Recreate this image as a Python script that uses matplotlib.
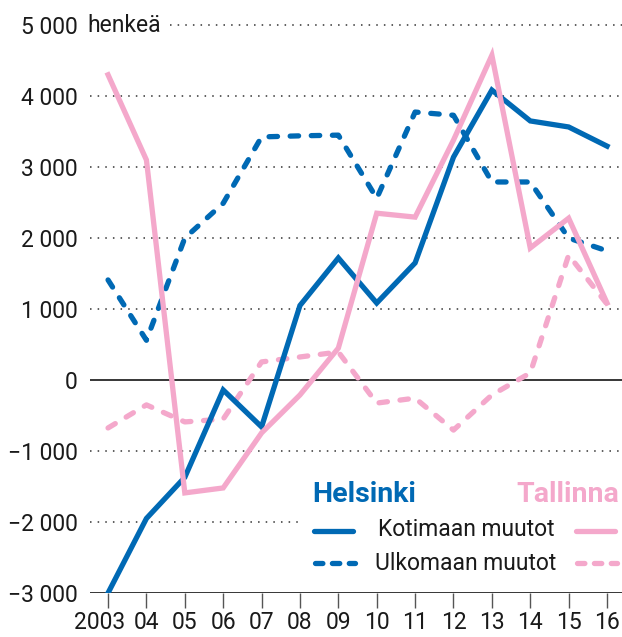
import matplotlib
matplotlib.use("Agg")
import matplotlib.pyplot as plt
import matplotlib.transforms as mtransforms
from matplotlib.lines import Line2D
from matplotlib.patches import Rectangle

plt.rcParams['font.family'] = ['Roboto', 'DejaVu Sans']

# Data
years = list(range(2003, 2017))
year_labels = ['2003', '04', '05', '06', '07', '08', '09', '10', '11', '12', '13', '14', '15', '16']
hki_kotimaan = [-3000, -1950, -1370, -140, -660, 1050, 1720, 1085, 1650, 3140, 4085, 3650, 3565, 3295]
hki_ulkomaan = [1410, 560, 2000, 2490, 3425, 3440, 3450, 2560, 3775, 3730, 2790, 2790, 2000, 1820]
tln_kotimaan = [4300, 3100, -1590, -1520, -745, -210, 450, 2350, 2295, 3380, 4575, 1860, 2280, 1085]
tln_ulkomaan = [-675, -350, -590, -550, 255, 325, 395, -325, -255, -705, -210, 100, 1760, 1070]
yticks = [-3000, -2000, -1000, 0, 1000, 2000, 3000, 4000, 5000]
ytick_labels = ['\u22123 000', '\u22122 000', '\u22121 000', '0', '1 000', '2 000', '3 000', '4 000', '5 000']

blue = '#0069b4'
pink = '#f4a8cb'
txt = '#1a1a1a'
W, H = 622, 637
fs = 16.5

fig = plt.figure(figsize=(W / 100, H / 100), dpi=100)
ax = fig.add_axes([90 / W, (H - 593) / H, (W - 90) / W, (593 - 18) / H])
ax.set_xlim(2002.53, 2016.39)
ax.set_ylim(-3000, 5100)

for s in ax.spines.values():
    s.set_visible(False)

# grid
for v in yticks:
    if v == 0 or v == -3000:
        ax.axhline(v, color='black', lw=1.1, zorder=2)
    elif v == 5000:
        ax.axhline(v, xmin=(170 - 90) / (W - 90), color='#333333', lw=1.1,
                   linestyle=(0, (1, 4)), zorder=1)
    else:
        ax.axhline(v, color='#333333', lw=1.1, linestyle=(0, (1, 4)), zorder=1)

ax.set_yticks(yticks)
ax.set_yticklabels(ytick_labels, color=txt)
ax.tick_params(axis='y', length=0, pad=9, labelsize=fs)
ax.set_xticks(years)
ax.set_xticklabels(year_labels, color=txt)
ax.tick_params(axis='x', length=11, width=1, color='#555555', pad=2, labelsize=fs)
# first year label sits a bit left of its tick
first = ax.get_xticklabels()[0]
first.set_transform(first.get_transform() + mtransforms.ScaledTranslation(-8 / 100, 0, fig.dpi_scale_trans))
fig.text(87 / W, (H - 25) / H, 'henkeä', fontsize=fs, va='center', ha='left', color=txt)

lw = 3.8
ax.plot(years, hki_ulkomaan, color=blue, lw=lw, dashes=(1.6, 2.4),
        dash_capstyle='round', zorder=3)
ax.plot(years, tln_ulkomaan, color=pink, lw=lw, dashes=(1.6, 2.4),
        dash_capstyle='round', zorder=3)
ax.plot(years, hki_kotimaan, color=blue, lw=lw, solid_joinstyle='miter', zorder=4)
ax.plot(years, tln_kotimaan, color=pink, lw=lw, solid_joinstyle='miter', zorder=5)

# legend
leg_ax = fig.add_axes([0, 0, 1, 1])
leg_ax.set_xlim(0, W)
leg_ax.set_ylim(H, 0)
leg_ax.axis('off')
leg_ax.add_patch(Rectangle((300, 475), W - 300, 112, facecolor='white', edgecolor='none'))
leg_ax.text(312, 495, 'Helsinki', color=blue, fontsize=20.5, fontweight='bold', va='center', ha='left')
leg_ax.text(619, 495, 'Tallinna', color=pink, fontsize=20.5, fontweight='bold', va='center', ha='right')
leg_ax.text(466, 530, 'Kotimaan muutot', fontsize=fs, va='center', ha='center', color=txt)
leg_ax.text(466, 563, 'Ulkomaan muutot', fontsize=fs, va='center', ha='center', color=txt)
leg_ax.add_line(Line2D([314, 353], [531, 531], color=blue, lw=lw, solid_capstyle='round'))
leg_ax.add_line(Line2D([576, 615], [531, 531], color=pink, lw=lw, solid_capstyle='round'))
leg_ax.add_line(Line2D([315, 355], [563, 563], color=blue, lw=lw, dashes=(1.4, 1.8),
                       dash_capstyle='round'))
leg_ax.add_line(Line2D([577, 617], [563, 563], color=pink, lw=lw, dashes=(1.4, 1.8),
                       dash_capstyle='round'))

fig.savefig('out.png', dpi=100)
